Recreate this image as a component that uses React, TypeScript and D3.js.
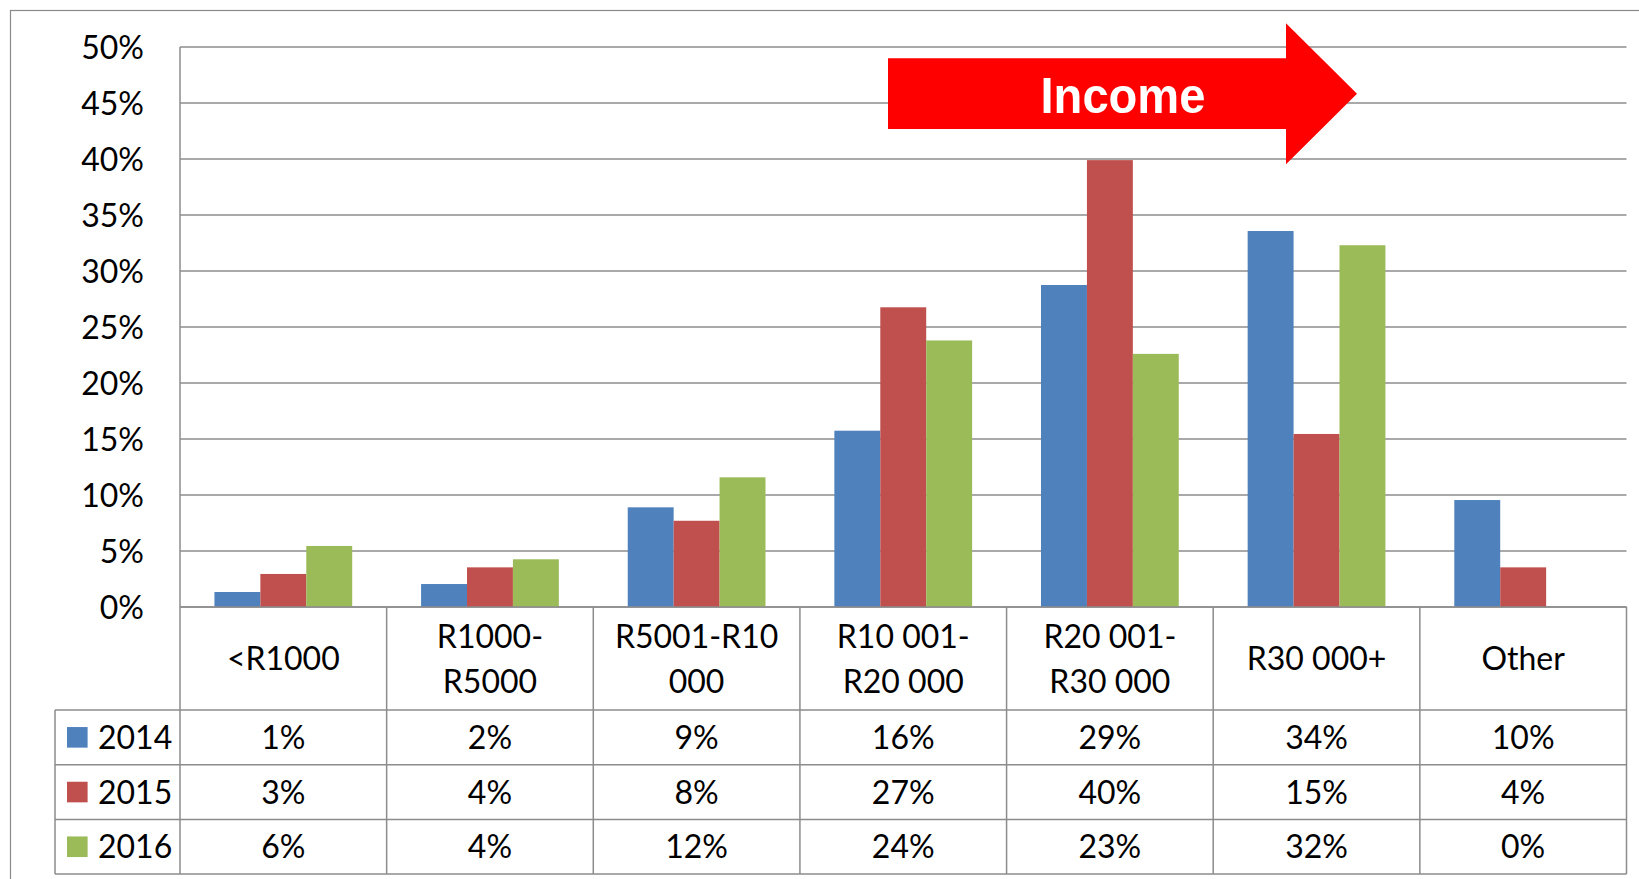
import React from "react";
import * as d3 from "d3";

const categoryLines: string[][] = [
  ["<R1000"],
  ["R1000-", "R5000"],
  ["R5001-R10", "000"],
  ["R10 001-", "R20 000"],
  ["R20 001-", "R30 000"],
  ["R30 000+"],
  ["Other"],
];
const seriesNames = ["2014", "2015", "2016"];
const values2014 = [1.34, 2.05, 8.9, 15.74, 28.75, 33.57, 9.55];
const values2015 = [2.95, 3.54, 7.7, 26.76, 39.9, 15.45, 3.54];
const values2016 = [5.45, 4.26, 11.58, 23.8, 22.6, 32.3, 0];
const labels2014 = ["1%", "2%", "9%", "16%", "29%", "34%", "10%"];
const labels2015 = ["3%", "4%", "8%", "27%", "40%", "15%", "4%"];
const labels2016 = ["6%", "4%", "12%", "24%", "23%", "32%", "0%"];
const yTicks = [0, 5, 10, 15, 20, 25, 30, 35, 40, 45, 50];
const seriesColors = ["#4F81BD", "#C0504D", "#9BBB59"];
const arrowLabel = "Income";

const W = 1639;
const H = 879;
const left = 180;
const right = 1626.5;
const top = 47;
const zeroY = 607;
const legendLeft = 55;
const catRowBottom = 710;
const rowH = 54.7;
const gridColor = "#8C8C8C";
const font = "Lato, 'Noto Sans', sans-serif";
const fs = 32;

export default function App() {
  const cats = categoryLines.map((_, i) => String(i));
  const x = d3.scaleBand<string>().domain(cats).range([left, right]).paddingInner(0).paddingOuter(0);
  const inner = d3
    .scaleBand<string>()
    .domain(seriesNames)
    .range([0, x.bandwidth()])
    .paddingInner(0)
    .paddingOuter(0.75);
  const y = d3.scaleLinear().domain([0, 50]).range([zeroY, top]);
  const series = [values2014, values2015, values2016];
  const labels = [labels2014, labels2015, labels2016];
  const bottom = catRowBottom + rowH * 3;
  const capOff = fs * 0.36;

  // arrow geometry
  const ax0 = 888, ax1 = 1286, axTip = 1357;
  const ay0 = 58.3, ay1 = 129, ahTop = 23.3, ahBot = 164.3;
  const ayMid = (ahTop + ahBot) / 2;
  const arrowPts = [
    [ax0, ay0], [ax1, ay0], [ax1, ahTop], [axTip, ayMid], [ax1, ahBot], [ax1, ay1], [ax0, ay1],
  ].map((p) => p.join(",")).join(" ");

  return (
    <svg
      width={W}
      height={H}
      style={{ position: "absolute", left: 0, top: 0, background: "#fff" }}
    >
      <rect x={10.5} y={10.5} width={W + 20} height={H + 20} fill="#fff" stroke="#8A8A8A" strokeWidth={1.2} />
      {/* gridlines */}
      {yTicks.map((t) => (
        <line key={"g" + t} x1={left} x2={right} y1={y(t)} y2={y(t)} stroke={gridColor} strokeWidth={1.5} />
      ))}
      {/* y labels */}
      {yTicks.map((t) => (
        <text
          key={"yl" + t}
          x={144}
          y={y(t) + capOff}
          textAnchor="end"
          fontFamily={font}
          fontSize={fs}
          fill="#000"
        >
          {t + "%"}
        </text>
      ))}
      {/* bars */}
      {categoryLines.map((_, ci) =>
        series.map((vals, si) => (
          <rect
            key={"b" + ci + "-" + si}
            x={(x(String(ci)) as number) + (inner(seriesNames[si]) as number)}
            y={y(vals[ci])}
            width={inner.bandwidth()}
            height={zeroY - y(vals[ci])}
            fill={seriesColors[si]}
          />
        ))
      )}
      {/* table lines */}
      <line x1={left} x2={left} y1={top} y2={bottom} stroke={gridColor} strokeWidth={1.5} />
      {cats.map((c, i) => (
        <line
          key={"v" + i}
          x1={(x(c) as number) + x.bandwidth()}
          x2={(x(c) as number) + x.bandwidth()}
          y1={zeroY}
          y2={bottom}
          stroke={gridColor}
          strokeWidth={1.5}
        />
      ))}
      <line x1={legendLeft} x2={legendLeft} y1={catRowBottom} y2={bottom} stroke={gridColor} strokeWidth={1.5} />
      {[0, 1, 2, 3].map((r) => (
        <line
          key={"h" + r}
          x1={legendLeft}
          x2={right}
          y1={catRowBottom + r * rowH}
          y2={catRowBottom + r * rowH}
          stroke={gridColor}
          strokeWidth={1.5}
        />
      ))}
      <line x1={left} x2={right} y1={zeroY} y2={zeroY} stroke={gridColor} strokeWidth={1.5} />
      {/* category labels */}
      {categoryLines.map((lines, ci) => {
        const cx = (x(String(ci)) as number) + x.bandwidth() / 2;
        const cy = (zeroY + catRowBottom) / 2;
        const lh = 45;
        return lines.map((ln, li) => (
          <text
            key={"c" + ci + "-" + li}
            x={cx}
            y={cy + (li - (lines.length - 1) / 2) * lh + capOff}
            textAnchor="middle"
            fontFamily={font}
            fontSize={fs}
            fill="#000"
          >
            {ln}
          </text>
        ));
      })}
      {/* data table */}
      {seriesNames.map((name, si) => {
        const cy = catRowBottom + rowH * si + rowH / 2;
        return (
          <g key={"row" + si}>
            <rect x={67} y={cy - 10.3} width={20.6} height={20.6} fill={seriesColors[si]} />
            <text x={98} y={cy + capOff} fontFamily={font} fontSize={fs} fill="#000">
              {name}
            </text>
            {labels[si].map((lab, ci) => (
              <text
                key={"t" + ci}
                x={(x(String(ci)) as number) + x.bandwidth() / 2}
                y={cy + capOff}
                textAnchor="middle"
                fontFamily={font}
                fontSize={fs}
                fill="#000"
              >
                {lab}
              </text>
            ))}
          </g>
        );
      })}
      {/* arrow */}
      <polygon points={arrowPts} fill="#FF0000" />
      <text
        x={1123}
        y={112.7}
        textAnchor="middle"
        fontFamily="'Liberation Sans', Arial, sans-serif"
        fontWeight="bold"
        fontSize={49.5}
        fill="#fff"
        textLength={165}
        lengthAdjust="spacingAndGlyphs"
      >
        {arrowLabel}
      </text>
    </svg>
  );
}
